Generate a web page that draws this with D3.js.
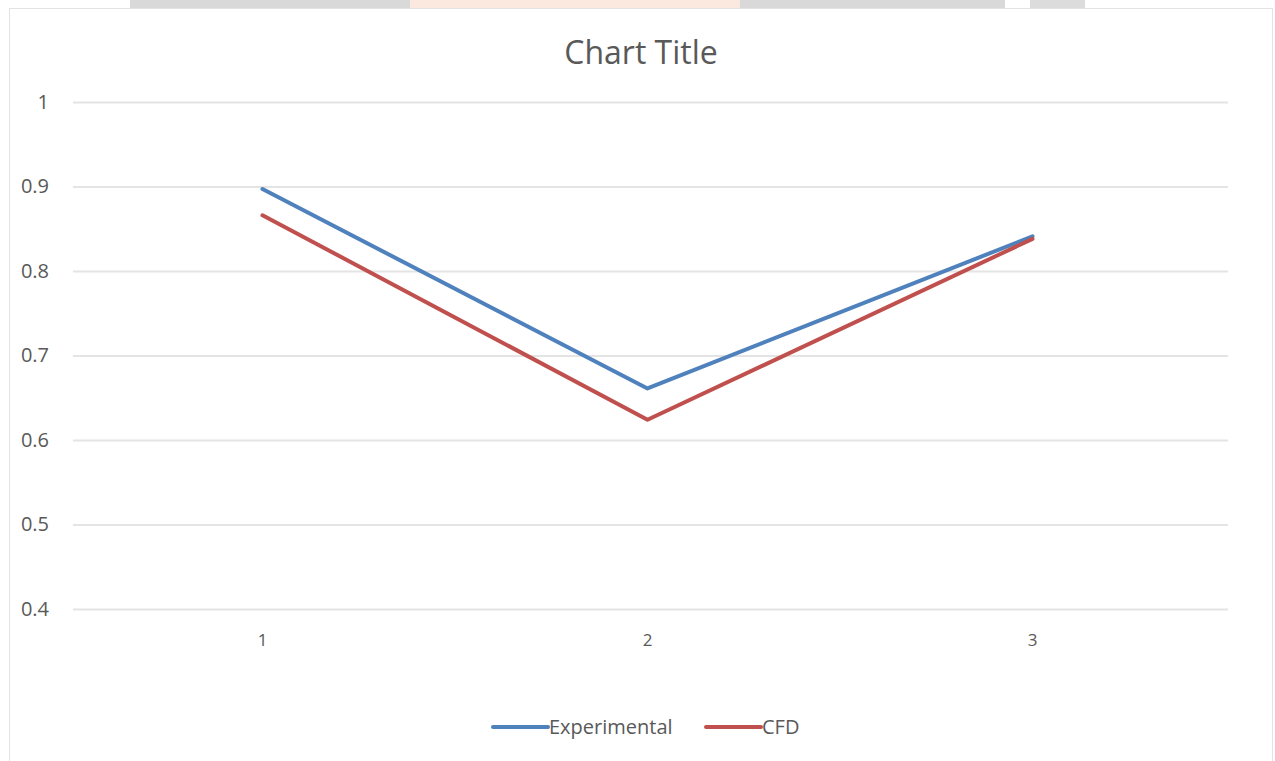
<!DOCTYPE html>
<html>
<head>
<meta charset="utf-8">
<script src="https://cdn.jsdelivr.net/npm/d3@7"></script>
<style>
  body { margin: 0; background: #fff; }
  svg { display: block; }
  svg text { font-family: "Open Sans", sans-serif; }
</style>
</head>
<body>
<div id="chart"></div>
<script>
// Data
var categories = ["1", "2", "3"];
var experimental = [0.897, 0.661, 0.841];
var cfd = [0.866, 0.624, 0.838];
var yTicks = [0.4, 0.5, 0.6, 0.7, 0.8, 0.9, 1];
var seriesNames = ["Experimental", "CFD"];

var W = 1275, H = 761;
var COLORS = ["#4f81bd", "#c0504d"];
var TEXT = "#595959";
var FONT = "'Open Sans', sans-serif";

var svg = d3.select("#chart").append("svg")
    .attr("width", W)
    .attr("height", H);

// faint watermark strip above the chart frame
var strip = svg.append("g");
strip.append("rect").attr("x", 130).attr("y", 0).attr("width", 280).attr("height", 8).attr("fill", "#d9d9d9");
strip.append("rect").attr("x", 410).attr("y", 0).attr("width", 330).attr("height", 8).attr("fill", "#fbe9df");
strip.append("rect").attr("x", 740).attr("y", 0).attr("width", 265).attr("height", 8).attr("fill", "#d9d9d9");
strip.append("rect").attr("x", 1030).attr("y", 0).attr("width", 55).attr("height", 8).attr("fill", "#dcdcdc");

// chart frame
svg.append("rect")
    .attr("x", 9.5).attr("y", 8.5)
    .attr("width", W - 12).attr("height", H - 8)
    .attr("fill", "#fff")
    .attr("stroke", "#e3e3e3");

var x = d3.scaleBand()
    .domain(categories)
    .range([73, 1228]);

var y = d3.scaleLinear()
    .domain([0.4, 1])
    .range([609, 102]);

// gridlines
svg.append("g")
    .attr("transform", "translate(73,0)")
    .call(d3.axisLeft(y).tickValues(yTicks).tickSize(-1155).tickFormat(""))
    .call(function(g) {
        g.select(".domain").remove();
        g.selectAll("line").attr("stroke", "#e4e4e4").attr("stroke-width", 2);
    });

// y tick labels
svg.append("g")
    .attr("transform", "translate(49,0)")
    .attr("font-family", FONT)
    .call(d3.axisLeft(y).tickValues(yTicks).tickSize(0).tickFormat(d3.format("")))
    .call(function(g) {
        g.select(".domain").remove();
        g.selectAll("text")
            .attr("fill", TEXT)
            .attr("font-size", 20)
            .attr("x", 0)
            .attr("text-anchor", "end");
    });

// x tick labels
svg.append("g")
    .attr("transform", "translate(0,631)")
    .attr("font-family", FONT)
    .call(d3.axisBottom(x).tickSize(0))
    .call(function(g) {
        g.select(".domain").remove();
        g.selectAll("text")
            .attr("fill", TEXT)
            .attr("font-size", 17)
            .attr("dx", -3);
    });

var line = d3.line()
    .x(function(d, i) { return x(categories[i]) + x.bandwidth() / 2 - 3; })
    .y(function(d) { return y(d); });

[experimental, cfd].forEach(function(s, i) {
    svg.append("path")
        .datum(s)
        .attr("d", line)
        .attr("fill", "none")
        .attr("stroke", COLORS[i])
        .attr("stroke-width", 4)
        .attr("stroke-linejoin", "round")
        .attr("stroke-linecap", "round");
});

// title
svg.append("text")
    .attr("x", 641).attr("y", 64)
    .attr("text-anchor", "middle")
    .attr("font-size", 32)
    .attr("fill", TEXT)
    .text("Chart Title");

// legend
var legendX = [493, 706];
var legend = svg.append("g").selectAll("g")
    .data(seriesNames)
    .enter().append("g")
    .attr("transform", function(d, i) { return "translate(" + legendX[i] + ",727)"; });

legend.append("line")
    .attr("x1", 0).attr("x2", 55)
    .attr("stroke", function(d, i) { return COLORS[i]; })
    .attr("stroke-width", 4)
    .attr("stroke-linecap", "round");

legend.append("text")
    .attr("x", 56).attr("y", 7)
    .attr("font-size", 20)
    .attr("fill", TEXT)
    .text(function(d) { return d; });
</script>
</body>
</html>
